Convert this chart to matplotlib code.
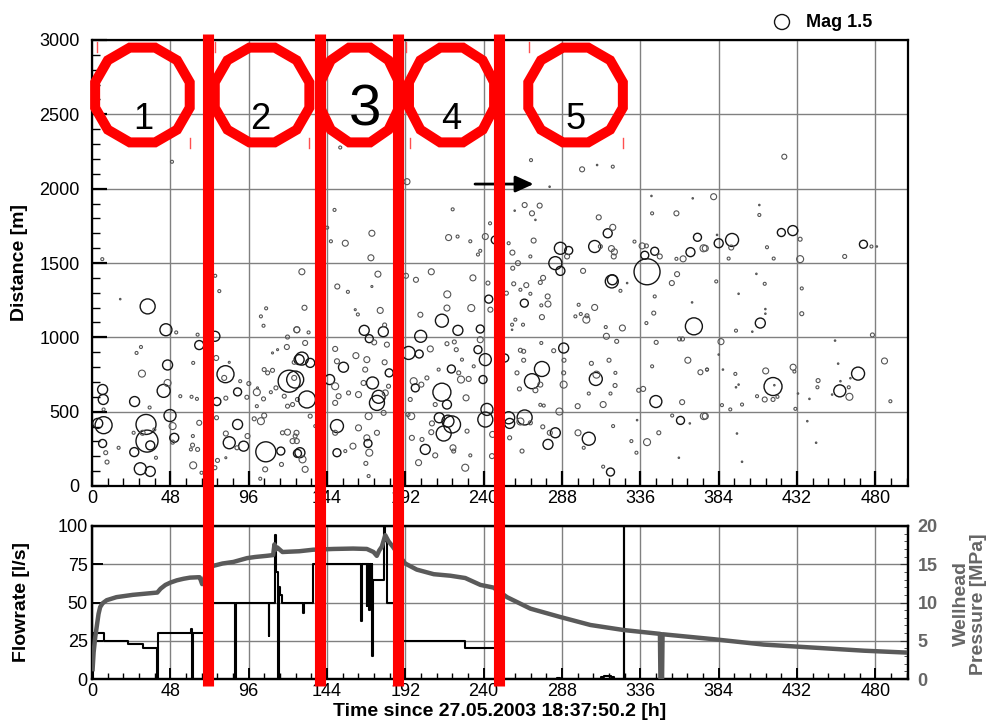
import numpy as np
import matplotlib
matplotlib.use("Agg")
import matplotlib.pyplot as plt
from matplotlib.patches import Polygon
from matplotlib.ticker import MultipleLocator

plt.rcParams['font.family'] = ['Liberation Sans', 'DejaVu Sans']

# ---------------- data ----------------
ev_time = [
 49.0, 6.3, 17.3, 34.1, 45.3, 51.6, 30.0, 27.3, 46.3, 30.6, 43.9, 46.3, 6.5, 6.9, 26.1, 54.1, 35.3, 61.0, 64.3, 7.1,
 47.8, 7.1, 3.5, 33.1, 33.7, 31.0, 25.5, 38.2, 6.5, 25.9, 35.7, 8.4, 9.2, 29.6, 35.7, 50.4, 49.4, 49.4, 16.3, 39.2,
 62.0, 61.8, 62.0, 65.7, 64.7, 75.5, 78.0, 75.3, 76.1, 81.8, 81.0, 76.5, 82.0, 89.2, 94.9, 90.8, 84.1, 96.1, 101.0, 105.1,
 101.0, 101.4, 103.5, 106.7, 105.1, 119.8, 125.5, 119.4, 110.6, 113.7, 126.9, 123.9, 120.8, 123.9, 110.6, 105.5, 107.6, 112.7, 109.6, 117.8,
 122.9, 119.8, 125.9, 105.5, 103.5, 99.4, 89.2, 84.1, 92.9, 95.3, 82.0, 106.5, 106.1, 103.1, 115.7, 116.1, 122.9, 125.3, 119.8, 116.7,
 125.9, 88.8, 64.7, 65.7, 60.6, 76.3, 76.9, 75.3, 67.1, 82.0, 61.6,
 152.1, 193.0, 148.6, 221.0, 171.5, 155.2, 146.4, 218.5, 224.0, 231.8, 241.0, 247.1, 170.9, 237.9, 236.5, 144.1, 243.9, 128.6, 175.2, 150.3,
 156.8, 171.5, 130.2, 161.3, 162.9, 176.6, 192.4, 198.5, 207.9, 217.7, 233.4, 242.6, 243.1, 244.1, 232.4, 217.5, 214.4, 224.2, 237.9, 201.2,
 201.4, 166.8, 178.5, 169.9, 172.9, 179.3, 125.5, 132.7, 128.6, 133.7, 124.5, 131.7, 130.6, 149.0, 154.1, 150.1, 161.7, 168.4, 179.3, 180.7,
 145.6, 149.0, 151.1, 149.0, 157.2, 163.3, 166.4, 167.4, 171.9, 174.6, 175.6, 179.7, 182.1, 181.7, 178.7, 169.5, 150.1, 149.0, 163.3, 168.4,
 169.1, 174.6, 169.9, 159.9, 150.1, 155.2, 167.8, 169.5, 127.4, 129.0, 130.6, 133.7, 136.8, 124.5, 125.5, 194.0, 200.5, 207.3, 217.5, 223.2,
 222.0, 220.2, 224.7, 226.1, 230.8, 239.6, 236.5, 241.0, 237.9, 197.1, 198.1, 201.8, 195.0, 214.4, 217.5, 218.1, 220.6, 215.5, 212.8, 208.3,
 204.2, 210.3, 221.2, 221.6, 228.7, 200.1, 241.0, 242.0, 245.5, 245.1, 229.8, 231.8, 195.6, 193.6, 196.0, 202.2, 207.9, 210.3, 229.2, 205.2,
 212.4, 226.7, 233.9,
 269.0, 300.3, 309.5, 319.1, 280.4, 265.1, 269.6, 274.3, 259.0, 271.7, 310.5, 343.2, 358.1, 342.8, 368.1, 316.0, 319.1, 308.0, 318.3, 320.1,
 319.7, 311.5, 287.0, 292.1, 291.1, 283.9, 287.0, 300.9, 270.6, 257.6, 268.6, 261.0, 257.8, 255.3, 337.1, 338.7, 339.7, 344.8, 347.9, 340.1,
 332.4, 358.1, 362.2, 366.7, 371.0, 374.7, 358.5, 355.3, 318.5, 318.9, 323.8, 327.9, 258.4, 266.1, 262.5, 268.6, 264.9, 279.2, 279.4, 275.3,
 275.7, 276.4, 274.7, 253.9, 257.4, 264.1, 257.4, 259.4, 308.0, 302.9, 303.3, 298.2, 296.2, 299.5, 315.2, 325.0, 321.5, 314.8, 344.8, 344.2,
 339.7, 368.8, 360.0, 361.8, 345.7, 367.7, 252.9, 264.5, 262.5, 275.7, 269.6, 271.7, 274.7, 261.9, 264.5, 260.4, 282.9, 275.3, 289.0, 289.2,
 289.0, 289.0, 308.7, 309.1, 306.0, 316.8, 320.5, 320.7, 317.7, 313.2, 297.6, 304.4, 345.5, 337.7, 335.0, 361.6, 365.1, 372.8, 376.9, 343.2,
 286.4, 265.1, 262.5, 255.3, 255.9, 268.6, 276.8, 274.7, 283.9, 280.5, 279.4, 276.2, 255.9, 263.5, 297.8, 304.4, 301.3, 319.3, 317.7, 313.2,
 340.1, 347.3, 330.5, 333.6, 360.6, 355.5, 374.9, 366.3, 359.6, 334.0,
 424.2, 380.9, 408.9, 408.9, 384.0, 392.2, 391.7, 383.0, 390.1, 413.6, 417.7, 422.4, 429.4, 433.9, 433.9, 461.2, 472.7, 477.6, 480.9, 375.8,
 382.5, 407.1, 412.2, 396.2, 434.9, 434.9, 412.6, 412.6, 409.5, 394.6, 404.6, 478.2, 385.4, 384.0, 455.3, 376.8, 386.6, 394.2, 396.2, 394.6,
 412.8, 417.3, 418.1, 412.2, 407.5, 417.3, 420.0, 429.6, 430.4, 432.6, 431.0, 386.0, 391.1, 398.3, 444.9, 444.5, 439.6, 457.2, 458.6, 469.4,
 464.7, 458.2, 464.1, 463.7, 453.5, 485.6, 489.2, 375.8, 395.2, 398.3, 438.3, 443.7,
]
ev_dist = [
 2181, 1526, 1257, 1208, 1051, 1033, 935, 895, 814, 756, 640, 693, 649, 582, 568, 604, 528, 600, 586, 515,
 474, 409, 421, 414, 302, 358, 358, 380, 286, 228, 273, 224, 161, 116, 98, 324, 403, 295, 257, 190,
 139, 336, 828, 948, 1018, 1414, 1311, 1007, 861, 752, 727, 568, 591, 633, 597, 705, 832, 689, 631, 586,
 537, 660, 1141, 1195, 1078, 1002, 1051, 935, 895, 917, 850, 832, 705, 727, 778, 783, 761, 660, 631, 604,
 548, 537, 582, 474, 436, 452, 414, 291, 268, 336, 353, 230, 112, 49, 235, 145, 302, 358, 362, 358,
 219, 257, 246, 425, 246, 459, 172, 123, 89, 190, 275,
 2277, 2047, 1857, 1861, 1700, 1633, 1646, 1671, 1678, 1646, 1678, 1655, 1535, 1582, 1557, 1738, 1767, 1441, 1425, 1342,
 1306, 1342, 1199, 1186, 1154, 1181, 1414, 1387, 1441, 1289, 1400, 1365, 1257, 1186, 1197, 1197, 1112, 1047, 1056, 1152,
 1007, 1047, 1038, 991, 966, 1083, 1051, 1033, 857, 828, 716, 582, 962, 922, 799, 839, 877, 850, 832, 951,
 716, 671, 604, 559, 626, 615, 693, 783, 693, 559, 600, 626, 761, 671, 492, 470, 403, 358, 391, 324,
 286, 358, 224, 268, 224, 235, 152, 67, 224, 179, 112, 470, 403, 336, 302, 895, 888, 922, 957, 917,
 969, 787, 761, 716, 720, 716, 917, 850, 984, 705, 660, 682, 582, 631, 548, 436, 414, 353, 459, 421,
 246, 206, 257, 235, 123, 157, 447, 515, 347, 201, 369, 206, 470, 481, 324, 313, 362, 548, 593, 727,
 783, 850, 805,
 2192, 2130, 2159, 2148, 2013, 1890, 1834, 1886, 1852, 1790, 1807, 1834, 1834, 1951, 1935, 1700, 1740, 1611, 1597, 1575,
 1544, 1611, 1599, 1584, 1544, 1499, 1447, 1447, 1651, 1570, 1544, 1499, 1465, 1633, 1615, 1552, 1615, 1579, 1544, 1441,
 1644, 1528, 1528, 1573, 1673, 1599, 1425, 1365, 1376, 1387, 1313, 1365, 1360, 1351, 1320, 1293, 1230, 1275, 1224, 1215,
 1136, 1400, 1369, 1297, 1085, 1085, 1051, 1119, 1201, 1119, 1145, 1219, 1141, 1157, 1007, 1063, 973, 1069, 1275, 1163,
 1096, 1074, 989, 989, 966, 1235, 861, 906, 913, 787, 705, 644, 682, 653, 846, 761, 910, 962, 928, 846,
 761, 682, 720, 749, 825, 846, 676, 761, 622, 548, 537, 622, 568, 653, 644, 564, 846, 765, 783, 805,
 501, 461, 434, 459, 421, 425, 541, 546, 358, 358, 280, 398, 324, 235, 358, 318, 257, 403, 94, 130,
 295, 358, 302, 224, 441, 474, 470, 421, 190, 443,
 2215, 1946, 1890, 1823, 1633, 1655, 1604, 1689, 1530, 1606, 1530, 1705, 1718, 1660, 1526, 1544, 1626, 1611, 1611, 1599,
 1376, 1427, 1360, 1293, 1329, 1159, 1190, 1159, 1096, 1045, 1038, 1016, 971, 884, 978, 783, 783, 754, 682, 664,
 774, 669, 678, 582, 604, 582, 600, 799, 770, 622, 519, 544, 515, 548, 709, 664, 586, 823, 705, 756,
 725, 640, 600, 664, 615, 841, 570, 470, 353, 163, 436, 291,
]
ev_mag = [
 0.3, 0.3, 0.15, 1.5, 1.2, 0.3, 0.3, 0.3, 1.0, 0.7, 1.3, 0.7, 1.0, 1.0, 1.0, 0.3, 0.3, 0.3, 0.3, 0.3,
 1.2, 1.7, 1.0, 2.0, 2.2, 0.5, 0.3, 0.3, 0.8, 0.9, 0.9, 0.4, 0.4, 1.2, 1.0, 0.9, 0.7, 0.4, 0.3, 0.3,
 0.7, 0.3, 0.3, 0.9, 0.3, 0.3, 0.3, 1.0, 0.5, 1.7, 0.5, 0.8, 0.4, 0.8, 0.4, 0.3, 0.2, 0.4, 0.7, 0.4,
 0.3, 0.2, 0.3, 0.3, 0.3, 0.4, 0.6, 0.5, 0.2, 0.2, 1.0, 0.4, 2.2, 0.5, 0.4, 0.4, 0.4, 0.4, 0.3, 0.4,
 0.4, 0.4, 0.4, 0.5, 0.7, 0.4, 1.0, 1.2, 1.0, 0.5, 0.5, 2.0, 0.5, 0.3, 0.8, 0.4, 0.5, 0.5, 0.6, 0.4,
 0.8, 0.4, 0.4, 0.5, 0.3, 0.4, 0.4, 0.4, 0.3, 0.2, 0.4,
 0.3, 0.6, 0.3, 0.3, 0.6, 0.6, 0.3, 0.6, 0.3, 0.3, 0.6, 0.8, 0.6, 0.3, 0.3, 0.3, 0.3, 0.6, 0.6, 0.5,
 0.3, 0.2, 0.5, 0.2, 0.3, 0.6, 0.5, 0.5, 0.6, 0.7, 0.6, 0.4, 0.8, 0.5, 0.7, 0.6, 1.3, 1.0, 0.8, 0.5,
 1.2, 1.0, 1.0, 0.8, 0.5, 0.4, 0.6, 0.3, 1.3, 0.9, 1.7, 1.7, 0.5, 0.5, 1.0, 0.5, 0.6, 0.6, 0.5, 0.5,
 1.0, 0.7, 0.5, 0.5, 0.4, 0.6, 0.5, 0.5, 1.2, 1.5, 1.3, 0.6, 0.8, 0.4, 0.5, 0.7, 1.3, 0.5, 0.6, 0.6,
 0.8, 0.5, 0.7, 0.6, 0.8, 0.3, 0.4, 0.3, 1.0, 0.7, 0.6, 0.4, 0.3, 0.4, 0.5, 1.3, 0.8, 0.6, 0.4, 0.4,
 0.4, 0.8, 0.4, 0.7, 0.5, 0.8, 0.8, 1.2, 0.6, 0.7, 0.8, 0.5, 0.4, 1.8, 0.9, 1.2, 1.7, 1.5, 1.0, 0.5,
 1.0, 0.5, 0.6, 0.4, 0.7, 0.6, 1.5, 1.2, 0.6, 0.5, 0.4, 0.3, 0.7, 0.4, 0.5, 0.4, 0.5, 0.4, 0.6, 0.4,
 0.3, 0.3, 0.3,
 0.3, 0.5, 0.15, 0.3, 0.15, 0.5, 0.5, 0.5, 0.15, 0.15, 0.5, 0.3, 0.5, 0.15, 0.15, 0.9, 0.6, 1.2, 0.6, 0.6,
 0.5, 0.4, 1.2, 0.8, 0.5, 1.3, 0.9, 0.5, 0.5, 0.5, 0.3, 0.5, 0.4, 0.3, 0.6, 0.8, 0.4, 0.8, 0.5, 2.6,
 0.3, 0.3, 0.6, 0.9, 0.8, 0.7, 0.5, 0.5, 1.3, 1.0, 0.3, 0.15, 0.4, 0.5, 0.3, 0.3, 0.8, 0.5, 0.6, 0.3,
 0.5, 0.5, 0.4, 0.4, 0.3, 0.3, 0.15, 0.3, 0.6, 0.7, 0.4, 0.3, 0.3, 0.3, 0.6, 0.6, 0.4, 0.3, 0.3, 0.4,
 0.3, 1.7, 0.4, 0.4, 0.4, 0.15, 0.8, 0.4, 0.4, 1.5, 1.5, 0.5, 0.5, 0.4, 0.4, 0.4, 0.4, 0.3, 1.0, 0.4,
 0.4, 0.7, 1.3, 0.7, 0.4, 0.4, 0.4, 0.3, 0.3, 0.6, 0.5, 0.3, 1.2, 0.5, 0.4, 0.5, 0.6, 0.5, 0.3, 0.3,
 0.7, 1.5, 0.7, 1.2, 1.0, 0.4, 0.3, 0.3, 1.0, 0.5, 1.0, 0.4, 0.4, 0.4, 0.6, 1.3, 0.3, 0.3, 0.8, 0.3,
 0.7, 0.4, 0.3, 0.3, 0.8, 0.3, 0.7, 0.15, 0.15, 0.15,
 0.5, 0.6, 0.15, 0.3, 0.9, 1.3, 0.5, 0.15, 0.3, 0.3, 0.3, 0.8, 1.0, 0.4, 0.7, 0.4, 0.8, 0.3, 0.15, 0.6,
 0.3, 0.15, 0.3, 0.15, 0.3, 0.4, 0.15, 0.15, 1.0, 0.3, 0.15, 0.4, 0.6, 0.15, 0.15, 0.3, 0.15, 0.3, 0.15, 0.15,
 0.6, 1.8, 0.15, 0.5, 0.3, 0.4, 0.3, 0.6, 0.3, 0.15, 0.3, 0.3, 0.3, 0.3, 0.4, 0.3, 0.15, 0.15, 0.15, 1.3,
 0.15, 1.2, 0.7, 0.3, 0.15, 0.6, 0.3, 0.6, 0.15, 0.15, 0.15, 0.15,
]

flow_time = [0, 0.4, 7.4, 21.9, 31.5, 40.0, 40.4, 60.8, 61.1, 61.6, 70.5, 87.7, 88.2, 108.2, 108.6,
             112.2, 112.6, 114.0, 114.4, 115.5, 116.5, 129.5, 129.9, 135.3, 165.0, 165.4, 168.4, 168.8,
             170.0, 170.4, 171.0, 171.4, 171.8, 172.3, 178.8, 179.6, 180.6, 187.0, 228.7, 249.5,
             285.0, 287.0, 312.0, 314.0, 318.0, 320.0, 325.8, 326.2, 500]
flow_rate = [0, 30, 25, 23, 20, 0, 30, 33, 0, 30, 50, 0, 50, 28, 50,
             94, 70, 0, 60, 55, 50, 43, 50, 75, 38, 75, 48, 75,
             45, 75, 47, 75, 15, 65, 100, 90, 50, 25, 20, 0,
             0.8, 0, 1.5, 2, 1.5, 0, 100, 0, 0]

pres_time = [0.3, 1.0, 2.0, 3.0, 4.0, 5.0, 6.5, 9, 15, 25, 35, 40, 42, 45, 48, 52, 56, 60, 65, 66, 67.5,
             71, 74.5, 80, 86.6, 95, 100, 107, 111, 111.8, 112.5, 113.5, 116.7, 127, 135.5, 148, 160,
             168.4, 172.5, 174.5, 176, 177.6, 179.7, 181.7, 184.3, 188, 191.9, 199, 209.4, 219.6, 228.7,
             238, 246, 254.3, 268.6, 287, 305.4, 325.8, 348.0, 348.3, 349.3, 349.6, 381, 411.6, 442.3,
             473, 499.5]
pres_mpa = [1.0, 3.5, 5.5, 7.0, 8.5, 9.4, 9.9, 10.3, 10.7, 11.0, 11.2, 11.3, 11.8, 12.3, 12.6, 12.9,
            13.1, 13.25, 13.3, 13.3, 12.4, 14.4, 14.8, 15.1, 15.3, 15.8, 15.95, 16.1, 16.2, 17.6, 16.9,
            17.2, 16.6, 16.7, 16.9, 17.0, 17.05, 17.0, 16.6, 16.1, 16.8, 17.3, 18.8, 18.0, 17.3, 16.2,
            15.1, 14.3, 13.7, 13.5, 13.2, 12.3, 11.95, 10.7, 9.2, 8.1, 7.06, 6.4, 5.9, 0.0, 0.0, 5.85,
            5.2, 4.5, 4.1, 3.7, 3.45]

x_ticks = list(range(0, 481, 48))
phase_labels = ["1", "2", "3", "4", "5"]
phase_bounds = [70.8, 139.7, 187.8, 249.4]

# ---------------- figure ----------------
W, H = 988, 726
fig = plt.figure(figsize=(W / 100, H / 100), dpi=100)

def px_rect(l, t, r, b):
    return [l / W, 1 - b / H, (r - l) / W, (b - t) / H]

ax = fig.add_axes(px_rect(92, 40, 908, 486))
axb = fig.add_axes(px_rect(92, 526, 908, 679))
axp = axb.twinx()
ax.set_zorder(10)

TICK_FS = 13
grid_kw = dict(color='#808080', lw=1.0)

# ---- top panel ----
mag = np.array(ev_mag)
dpx = np.maximum(mag * 10.0, 1.3)
sizes = (dpx * 0.72) ** 2
ecol = np.where(mag >= 0.8, '#151515', '#555555')
lws = np.where(mag >= 0.8, 1.0, 0.8)
ax.scatter(ev_time, ev_dist, s=sizes, facecolors='none', edgecolors=ecol,
           linewidths=lws, zorder=3)

ax.set_xlim(0, 500)
ax.set_ylim(0, 3000)
ax.set_xticks(x_ticks)
ax.set_yticks(range(0, 3001, 500))
ax.xaxis.set_minor_locator(MultipleLocator(9.6))
ax.yaxis.set_minor_locator(MultipleLocator(100))
ax.grid(True, which='major', **grid_kw)
ax.set_axisbelow(True)
ax.tick_params(which='both', direction='in', top=False, right=False, labelsize=TICK_FS)
ax.tick_params(which='major', length=11, width=1.6)
ax.tick_params(which='minor', length=6, width=1.0)
ax.tick_params(axis='y', pad=9)
ax.tick_params(axis='x', pad=3)
for sp in ax.spines.values():
    sp.set_linewidth(1.6)

# ---- bottom panel ----
axb.plot(flow_time, flow_rate, drawstyle='steps-post', color='black', lw=1.5, zorder=3)
axp.plot(pres_time, pres_mpa, color='#5a5a5a', lw=3.2, solid_capstyle='butt', zorder=3)
axb.set_xlim(0, 500)
axb.set_ylim(0, 100)
axp.set_ylim(0, 20)
axb.set_xticks(x_ticks)
axb.set_yticks([0, 25, 50, 75, 100])
axp.set_yticks([0, 5, 10, 15, 20])
axb.xaxis.set_minor_locator(MultipleLocator(9.6))
axp.yaxis.set_minor_locator(MultipleLocator(1))
axb.grid(True, which='major', **grid_kw)
axb.set_axisbelow(True)
axb.tick_params(which='both', direction='in', top=False, right=False, labelsize=TICK_FS)
axb.tick_params(which='major', length=8, width=1.4)
axb.tick_params(which='minor', length=4, width=1.0)
axb.tick_params(axis='y', pad=3)
axb.tick_params(axis='x', pad=3)
axp.tick_params(which='both', direction='in', labelsize=TICK_FS, labelcolor='#666666',
                color='#333333', pad=7)
axp.tick_params(which='major', length=6)
axp.tick_params(which='minor', length=3)
for lab in axp.get_yticklabels():
    lab.set_fontweight('bold')
for a in (axb, axp):
    for sp in a.spines.values():
        sp.set_linewidth(1.6)

# ---- labels ----
LAB_FS = 14
fig.text(20 / W, 1 - 263 / H, 'Distance [m]', rotation=90, ha='center', va='center',
         fontsize=LAB_FS, fontweight='bold')
fig.text(22 / W, 1 - 602 / H, 'Flowrate [l/s]', rotation=90, ha='center', va='center',
         fontsize=LAB_FS, fontweight='bold')
fig.text(970 / W, 1 - 604 / H, 'Wellhead\nPressure [MPa]', rotation=90, ha='center', va='center',
         fontsize=LAB_FS, fontweight='bold', color='#666666', linespacing=1.0)
fig.text(500 / W, 1 - 712 / H, 'Time since 27.05.2003 18:37:50.2 [h]', ha='center', va='center',
         fontsize=LAB_FS, fontweight='bold')

# legend (magnitude reference)
ax.scatter([422.8], [3121], s=[(15 * 0.72) ** 2], facecolors='none', edgecolors='#151515',
           linewidths=1.0, clip_on=False, zorder=5)
ax.text(437.5, 3121, 'Mag 1.5', ha='left', va='center', fontsize=13, fontweight='bold',
        clip_on=False)

# arrow
ax.annotate('', xy=(270.6, 2031), xytext=(234.7, 2031),
            arrowprops=dict(arrowstyle='-|>,head_length=0.55,head_width=0.25', lw=2,
                            color='black', mutation_scale=20, shrinkA=0, shrinkB=0),
            zorder=6)

# red phase annotations
RED = '#ff0000'
for xb in phase_bounds:
    ax.axvline(xb, ymin=(486 - 686) / 446, ymax=(486 - 34) / 446, color=RED, lw=8,
               clip_on=False, zorder=20, solid_capstyle='butt')

circ_cx = [30.9, 104.2, 164.0, 220.3, 296.3]
circ_rx = [30.0, 30.0, 25.0, 27.0, 30.0]
circ_cy, circ_ry = 2630, 330
ang = np.deg2rad(15 + 30 * np.arange(12))
for cx, rx in zip(circ_cx, circ_rx):
    verts = np.column_stack([cx + rx * np.cos(ang), circ_cy + circ_ry * np.sin(ang)])
    ax.add_patch(Polygon(verts, closed=True, fill=False, ec=RED, lw=7.2,
                         joinstyle='miter', clip_on=False, zorder=19))

lab_x = [31.3, 103.4, 167.3, 219.8, 296.0]
lab_y = [2462, 2462, 2529, 2462, 2462]
lab_fs = [26, 26, 42, 26, 26]
for lx, ly, lt, fs in zip(lab_x, lab_y, phase_labels, lab_fs):
    ax.text(lx, ly, lt, ha='center', va='center', fontsize=fs, color='black',
            zorder=21, clip_on=False)

# small red marks
mark_x = [2.9, 60.0, 75.4, 133.0, 192.4, 194.9, 267.8, 325.4]
mark_hi = [True, False, True, False, True, False, True, False]
for mx, hi in zip(mark_x, mark_hi):
    y0, y1 = (2919, 2986) if hi else (2273, 2341)
    ax.plot([mx, mx], [y0, y1], color='#ff5050', lw=1.0, zorder=18, clip_on=False)

fig.savefig('out.png', dpi=100)
